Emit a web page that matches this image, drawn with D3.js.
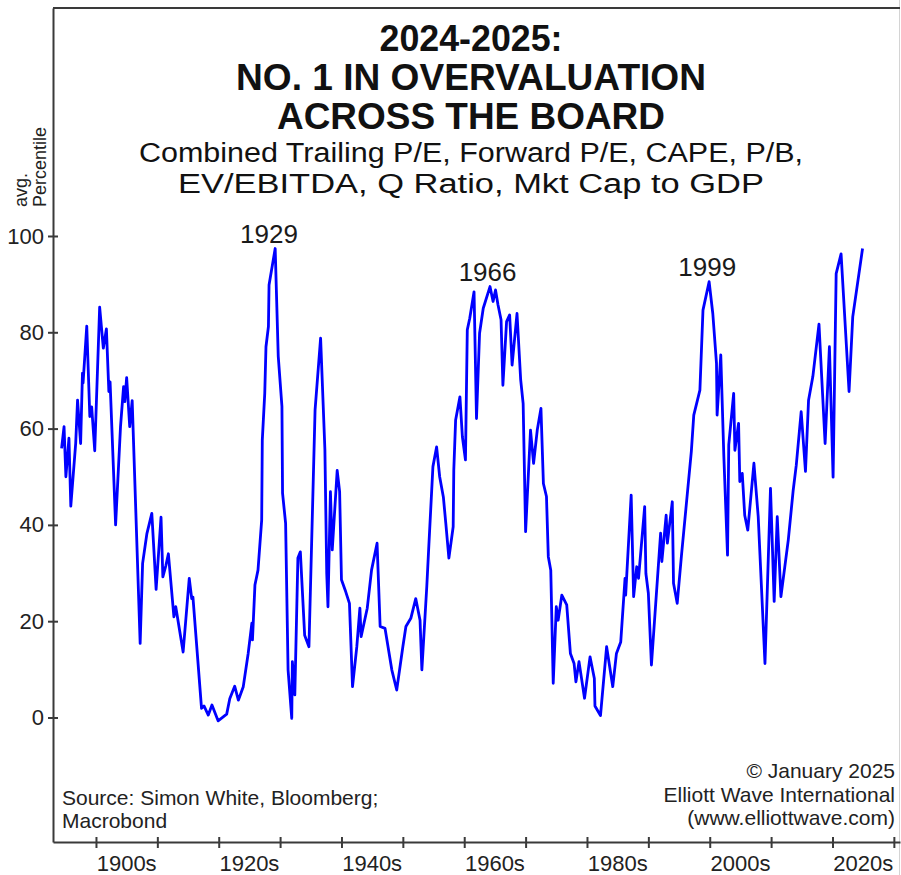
<!DOCTYPE html>
<html lang="en">
<head>
    <meta charset="UTF-8">
    <title>No. 1 in Overvaluation Across the Board</title>
    <script src="https://d3js.org/d3.v7.min.js"></script>
    <style>
        body {
            margin: 0;
            background: #fff;
            font-family: 'Liberation Sans', Arial, sans-serif;
        }
        .axis path, .axis line {
            stroke: #3a3a3a;
            stroke-width: 2px;
        }
        .axis text {
            font-size: 22px;
            fill: #222;
            font-family: 'Liberation Sans', Arial, sans-serif;
        }
    </style>
</head>
<body>
<div id="chart"></div>
<script>
// years (decimal) and avg. percentile
const years = [
    1894.4, 1894.8, 1895.1, 1895.6, 1895.9, 1896.7, 1897.0, 1897.5, 1897.8, 1897.9,
    1898.5, 1899.0, 1899.3, 1899.8, 1900.6, 1901.2, 1901.7, 1902.1, 1902.3, 1903.2,
    1904.0, 1904.5, 1904.7, 1905.0, 1905.5, 1905.9, 1907.2, 1907.6, 1908.3, 1909.1,
    1909.8, 1910.6, 1910.9, 1911.4, 1911.8, 1912.7, 1913.0, 1914.2, 1915.2, 1915.6,
    1915.8, 1917.2, 1917.6, 1918.3, 1918.9, 1919.9, 1921.3, 1921.8, 1922.6, 1923.2,
    1924.0, 1924.8, 1925.4, 1925.5, 1925.9, 1926.4, 1927.0, 1927.1, 1927.5, 1927.7,
    1928.1, 1928.2, 1929.2, 1929.7, 1930.3, 1930.4, 1930.9, 1931.3, 1931.9, 1932.0,
    1932.4, 1932.9, 1933.3, 1934.0, 1934.7, 1935.7, 1936.6, 1937.3, 1937.6, 1937.8,
    1938.2, 1938.5, 1939.3, 1939.7, 1940.0, 1940.7, 1941.3, 1941.8, 1942.5, 1943.0,
    1943.2, 1944.2, 1944.9, 1945.8, 1946.3, 1947.1, 1948.2, 1949.0, 1950.0, 1950.5,
    1951.3, 1952.1, 1952.8, 1953.1, 1953.9, 1954.2, 1954.9, 1955.5, 1956.0, 1956.6,
    1957.0, 1957.5, 1958.2, 1958.3, 1958.6, 1959.3, 1959.7, 1960.2, 1960.5, 1960.9,
    1961.6, 1962.0, 1962.5, 1963.1, 1964.2, 1964.7, 1965.1, 1965.5, 1966.0, 1966.3,
    1966.9, 1967.4, 1967.8, 1968.6, 1969.2, 1969.6, 1970.0, 1970.8, 1971.3, 1971.9,
    1972.5, 1972.9, 1973.4, 1973.7, 1974.1, 1974.5, 1975.0, 1975.3, 1975.9, 1976.7,
    1977.3, 1977.9, 1978.2, 1978.7, 1979.6, 1980.5, 1981.2, 1981.3, 1982.2, 1983.2,
    1984.2, 1984.8, 1985.5, 1986.2, 1986.3, 1987.2, 1987.6, 1988.1, 1988.4, 1989.4,
    1989.6, 1990.0, 1990.5, 1992.0, 1992.2, 1992.9, 1993.1, 1993.9, 1994.1, 1994.7,
    1995.4, 1997.0, 1997.4, 1998.4, 1998.9, 1999.9, 2000.5, 2001.1, 2001.2, 2001.8,
    2002.3, 2002.9, 2003.1, 2003.9, 2004.1, 2004.7, 2004.9, 2005.3, 2005.7, 2006.2,
    2007.2, 2007.9, 2009.0, 2009.9, 2010.5, 2011.0, 2011.6, 2012.8, 2013.6, 2014.1,
    2014.9, 2015.6, 2016.1, 2016.8, 2017.8, 2018.8, 2019.5, 2020.1, 2020.6, 2021.4,
    2022.7, 2023.3, 2024.9
];
const percentile = [
    55.9, 60.4, 50.0, 58.0, 43.9, 57.0, 65.9, 56.9, 71.5, 69.5,
    81.3, 62.5, 64.5, 55.4, 85.2, 76.7, 80.7, 67.7, 69.7, 40.0,
    60.4, 68.7, 65.6, 70.6, 60.4, 65.8, 15.4, 32.0, 38.2, 42.4,
    26.6, 41.6, 29.2, 31.6, 34.0, 20.9, 23.0, 13.6, 28.9, 24.7,
    25.0, 1.9, 2.4, 0.5, 2.6, -0.7, 0.7, 3.9, 6.5, 3.6,
    6.4, 13.3, 19.6, 16.1, 27.5, 30.6, 41.0, 57.6, 67.3, 77.0,
    81.2, 89.8, 97.4, 75.0, 64.6, 46.6, 40.3, 9.9, -0.2, 11.6,
    4.7, 33.1, 34.4, 17.1, 14.7, 63.9, 78.8, 55.6, 29.9, 23.0,
    46.9, 34.8, 51.3, 46.9, 28.6, 26.1, 23.7, 6.4, 14.7, 22.7,
    16.8, 22.7, 30.6, 36.2, 18.9, 18.5, 9.9, 5.7, 14.7, 18.9,
    20.6, 24.7, 20.2, 9.9, 27.2, 34.8, 52.1, 56.2, 50.0, 45.8,
    40.3, 33.1, 39.6, 51.4, 61.8, 66.6, 58.3, 53.5, 80.5, 82.9,
    88.4, 62.1, 79.8, 85.0, 89.5, 86.4, 88.8, 85.7, 82.6, 69.0,
    82.2, 83.6, 73.2, 83.9, 70.1, 65.2, 38.6, 59.7, 52.8, 59.7,
    64.2, 48.6, 45.9, 33.4, 30.6, 7.1, 23.0, 20.2, 25.4, 23.4,
    13.3, 11.2, 7.4, 11.6, 4.0, 12.6, 8.1, 2.4, 0.4, 14.7,
    6.4, 13.3, 15.7, 28.9, 25.4, 46.2, 25.1, 31.3, 28.9, 43.8,
    29.9, 25.8, 10.9, 38.3, 32.4, 42.0, 36.2, 44.8, 27.9, 23.7,
    33.7, 55.2, 62.8, 68.0, 84.6, 90.5, 83.9, 73.6, 62.8, 75.3,
    54.2, 33.7, 56.6, 67.3, 55.5, 61.1, 49.0, 50.7, 42.0, 38.9,
    52.8, 41.7, 11.2, 47.6, 24.1, 41.7, 25.1, 36.9, 47.2, 52.4,
    63.5, 51.1, 65.9, 70.8, 81.7, 56.9, 77.0, 49.9, 92.2, 96.3,
    67.7, 83.2, 97.4
];

const yTicks = [0, 20, 40, 60, 80, 100];
const decadeTicks = [1900, 1910, 1920, 1930, 1940, 1950, 1960, 1970, 1980, 1990, 2000, 2010, 2020, 2030];
const decadeLabels = ['1900s', '1920s', '1940s', '1960s', '1980s', '2000s', '2020s'];
const peakLabels = [
    { text: '1929', year: 1928.2, value: 97.4 },
    { text: '1966', year: 1963.8, value: 89.5 },
    { text: '1999', year: 1999.6, value: 90.5 }
];

const titleLines = ['2024-2025:', 'NO. 1 IN OVERVALUATION', 'ACROSS THE BOARD'];
const subtitleLines = ['Combined Trailing P/E, Forward P/E, CAPE, P/B,', 'EV/EBITDA, Q Ratio, Mkt Cap to GDP'];
const sourceLines = ['Source: Simon White, Bloomberg;', 'Macrobond'];
const creditLines = ['\u00A9 January 2025', 'Elliott Wave International', '(www.elliottwave.com)'];

const width = 901, height = 875;
const plotLeft = 53, plotRight = 900, plotTop = 8, plotBottom = 842;

const svg = d3.select('#chart').append('svg')
    .attr('width', width)
    .attr('height', height);

const x = d3.scaleLinear().domain([1893, 2031]).range([plotLeft, plotRight]);
const y = d3.scaleLinear().domain([-25.86, 147.35]).range([plotBottom, plotTop]);

// outer frame
svg.append('line')
    .attr('x1', width - 1.5).attr('x2', width - 1.5)
    .attr('y1', 0).attr('y2', height)
    .attr('stroke', '#d4d4d4').attr('stroke-width', 1);
svg.append('line')
    .attr('x1', plotLeft).attr('x2', plotRight)
    .attr('y1', plotTop).attr('y2', plotTop)
    .attr('stroke', '#3a3a3a').attr('stroke-width', 2);

// y axis
const yAxis = svg.append('g')
    .attr('class', 'axis')
    .attr('transform', `translate(${plotLeft},0)`)
    .call(d3.axisLeft(y).tickValues(yTicks).tickSize(5).tickSizeOuter(0).tickPadding(4));
yAxis.selectAll('.tick line').attr('x1', 5);

// x axis
const xAxis = svg.append('g')
    .attr('class', 'axis')
    .attr('transform', `translate(0,${plotBottom})`)
    .call(d3.axisBottom(x).tickValues(decadeTicks).tickSize(6).tickSizeOuter(0).tickFormat(''));
xAxis.selectAll('.tick line').attr('y1', -5);

svg.append('g')
    .selectAll('text')
    .data(decadeLabels)
    .join('text')
    .attr('x', d => x(parseInt(d) + 5))
    .attr('y', 871)
    .attr('text-anchor', 'middle')
    .attr('font-size', 22)
    .attr('fill', '#222')
    .text(d => d);

// y axis title
const yTitle = svg.append('text')
    .attr('transform', 'translate(0,207) rotate(-90)')
    .attr('font-size', 18)
    .attr('fill', '#222');
yTitle.append('tspan').attr('x', 0).attr('y', 27).text('avg.');
yTitle.append('tspan').attr('x', 0).attr('y', 46).text('Percentile');

// series
const line = d3.line()
    .x((d, i) => x(years[i]))
    .y(d => y(d));

svg.append('path')
    .datum(percentile)
    .attr('fill', 'none')
    .attr('stroke', '#0000ff')
    .attr('stroke-width', 2.8)
    .attr('stroke-linejoin', 'round')
    .attr('d', line);

// peak labels
svg.append('g')
    .selectAll('text')
    .data(peakLabels)
    .join('text')
    .attr('x', d => x(d.year))
    .attr('y', d => y(d.value) - 6)
    .attr('text-anchor', 'middle')
    .attr('font-size', 26)
    .attr('fill', '#1a1a1a')
    .text(d => d.text);

// titles (line widths matched to the original artwork)
const cx = 471;
const titleWidths = [183, 470, 388];
svg.append('g')
    .selectAll('text')
    .data(titleLines)
    .join('text')
    .attr('x', cx)
    .attr('y', (d, i) => 51 + i * 39)
    .attr('text-anchor', 'middle')
    .attr('font-size', 36)
    .attr('font-weight', 'bold')
    .attr('fill', '#111')
    .attr('textLength', (d, i) => titleWidths[i])
    .attr('lengthAdjust', 'spacingAndGlyphs')
    .text(d => d);

const subtitleWidths = [664, 586];
svg.append('g')
    .selectAll('text')
    .data(subtitleLines)
    .join('text')
    .attr('x', cx)
    .attr('y', (d, i) => 162 + i * 31)
    .attr('text-anchor', 'middle')
    .attr('font-size', 27)
    .attr('fill', '#111')
    .attr('textLength', (d, i) => subtitleWidths[i])
    .attr('lengthAdjust', 'spacingAndGlyphs')
    .text(d => d);

// notes
svg.append('g')
    .selectAll('text')
    .data(sourceLines)
    .join('text')
    .attr('x', 62)
    .attr('y', (d, i) => 805 + i * 23)
    .attr('font-size', 21)
    .attr('fill', '#222')
    .text(d => d);

svg.append('g')
    .selectAll('text')
    .data(creditLines)
    .join('text')
    .attr('x', 895)
    .attr('y', (d, i) => 778 + i * 23.5)
    .attr('text-anchor', 'end')
    .attr('font-size', 21)
    .attr('fill', '#222')
    .text(d => d);
</script>
</body>
</html>
